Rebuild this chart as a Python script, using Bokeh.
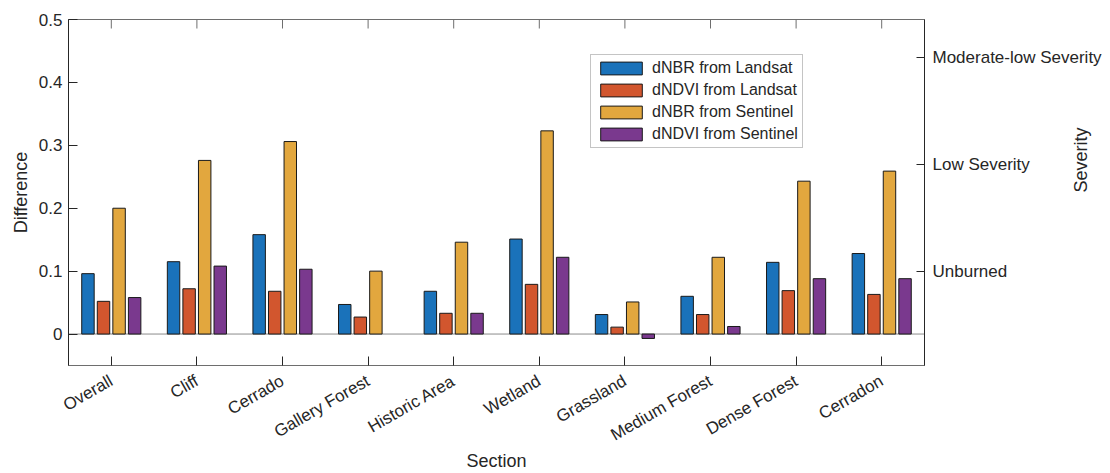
import math
import numpy as np
from bokeh.plotting import figure
from bokeh.models import (LinearAxis, FixedTicker, Range1d, Span, Legend,
                          LegendItem)
from bokeh.embed import file_html
from bokeh.resources import INLINE

sections = ["Overall", "Cliff", "Cerrado", "Gallery Forest", "Historic Area",
            "Wetland", "Grassland", "Medium Forest", "Dense Forest", "Cerradon"]
dnbr_landsat = [0.096, 0.115, 0.158, 0.047, 0.068, 0.151, 0.031, 0.060, 0.114, 0.128]
dndvi_landsat = [0.052, 0.072, 0.068, 0.027, 0.033, 0.079, 0.011, 0.031, 0.069, 0.063]
dnbr_sentinel = [0.200, 0.276, 0.306, 0.100, 0.146, 0.323, 0.051, 0.122, 0.243, 0.259]
dndvi_sentinel = [0.058, 0.108, 0.103, float("nan"), 0.033, 0.122, -0.007, 0.012, 0.088, 0.088]
series_names = ["dNBR from Landsat", "dNDVI from Landsat",
                "dNBR from Sentinel", "dNDVI from Sentinel"]
series_values = [dnbr_landsat, dndvi_landsat, dnbr_sentinel, dndvi_sentinel]
colors = ["#1A72BA", "#D2562E", "#E2A73E", "#7A398E"]
y_ticks = [0, 0.1, 0.2, 0.3, 0.4, 0.5]
y_tick_labels = ["0", "0.1", "0.2", "0.3", "0.4", "0.5"]
severity_ticks = [0.1, 0.27, 0.44]
severity_labels = ["Unburned", "Low Severity", "Moderate-low Severity"]

FONT = "Liberation Sans"
TXT = "#262626"
Y_MIN, Y_MAX = -0.05, 0.5

p = figure(width=1110, height=473, x_range=Range1d(0.5, 10.5),
           y_range=Range1d(Y_MIN, Y_MAX), output_backend="svg",
           toolbar_location=None, min_border_left=68, min_border_right=186,
           min_border_top=19, min_border_bottom=108)
p.xgrid.visible = False
p.ygrid.visible = False
p.outline_line_color = "#6e6e6e"
p.background_fill_color = "white"

xs = np.arange(1, len(sections) + 1)
group_w = min(0.8, 4 / (4 + 1.5))
bar_w = group_w / 4 * 0.8
renderers = []
for i, (vals, col) in enumerate(zip(series_values, colors)):
    off = (i - 1.5) * group_w / 4
    r = p.vbar(x=xs + off, top=vals, bottom=0, width=bar_w, fill_color=col,
               line_color="#1a1a1a", line_width=1)
    renderers.append(r)

p.add_layout(Span(location=0, dimension="width", line_color="#8c8c8c",
                  line_width=1, level="underlay"))

# top tick marks of the box (MATLAB style)
tick_len = 9 / 346 * (Y_MAX - Y_MIN)
p.segment(x0=xs, x1=xs, y0=Y_MAX, y1=Y_MAX - tick_len, line_color="#6e6e6e",
          line_width=1)

def style_axis(ax, size="17px"):
    ax.major_tick_out = 0
    ax.minor_tick_out = 0
    ax.minor_tick_in = 0
    ax.major_label_text_font = FONT
    ax.major_label_text_font_size = size
    ax.major_label_text_color = TXT
    ax.axis_line_color = TXT
    ax.major_tick_line_color = TXT
    ax.axis_label_text_font = FONT
    ax.axis_label_text_font_size = "18px"
    ax.axis_label_text_font_style = "normal"
    ax.axis_label_text_color = TXT

# left axis
ya = p.yaxis[0]
style_axis(ya)
ya.ticker = FixedTicker(ticks=y_ticks)
ya.major_label_overrides = {t: l for t, l in zip(y_ticks, y_tick_labels)}
ya.major_tick_in = 9
ya.major_label_standoff = 6
ya.axis_label = "Difference"
ya.axis_label_standoff = 5

# bottom axis
xa = p.xaxis[0]
style_axis(xa)
xa.ticker = FixedTicker(ticks=list(xs))
xa.major_label_overrides = {int(x): s for x, s in zip(xs, sections)}
xa.major_label_orientation = math.pi / 6
xa.major_tick_in = 9
xa.major_label_standoff = 14
xa.axis_label = "Section"
xa.axis_label_standoff = -5
xa.axis_line_color = "#6e6e6e"

# right axis (severity classes)
ra = LinearAxis(ticker=FixedTicker(ticks=severity_ticks))
style_axis(ra)
ra.major_label_overrides = {t: l for t, l in zip(severity_ticks, severity_labels)}
ra.major_tick_in = 8
ra.major_label_standoff = 8
p.add_layout(ra, "right")

# right axis title
rb = LinearAxis(ticker=FixedTicker(ticks=[]), bounds=(Y_MIN, 0.39))
style_axis(rb)
rb.axis_line_color = None
rb.major_tick_in = 0
rb.major_label_standoff = 0
rb.axis_label = "Severity"
rb.axis_label_orientation = math.pi / 2
rb.axis_label_standoff = -24
p.add_layout(rb, "right")

legend = Legend(items=[LegendItem(label=n, renderers=[r])
                       for n, r in zip(series_names, renderers)],
                location=(522, 217))
legend.glyph_width = 52
legend.glyph_height = 16
legend.label_height = 16
legend.label_text_font = FONT
legend.label_text_font_size = "16px"
legend.label_text_color = TXT
legend.spacing = 4
legend.padding = 4
legend.margin = 0
legend.label_standoff = 5
legend.border_line_color = "#8a8a8a"
legend.background_fill_alpha = 1
p.add_layout(legend)

open("out.html", "w").write(file_html(p, INLINE))
